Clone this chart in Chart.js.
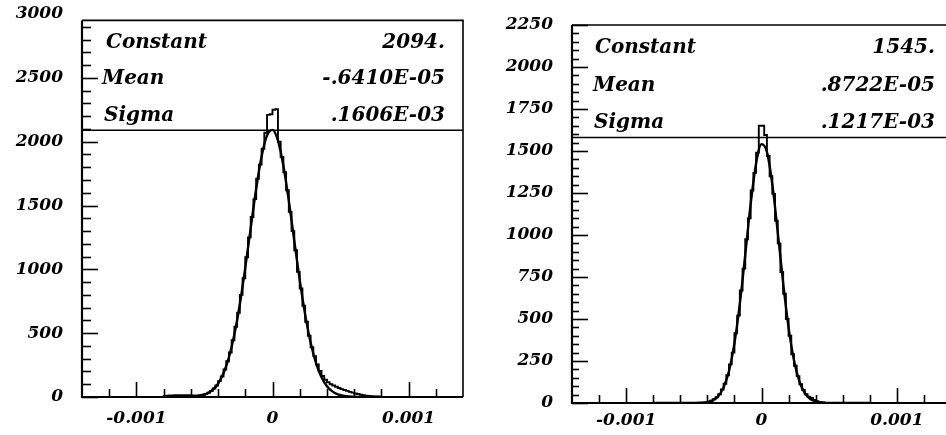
<!DOCTYPE html>
<html><head><meta charset="utf-8">
<script src="https://cdn.jsdelivr.net/npm/chart.js@4.4.1/dist/chart.umd.min.js"></script>
<style>
html,body{margin:0;padding:0;background:#fff;overflow:hidden;width:946px;height:435px;}
#c1{position:absolute;left:0;top:0;}
#c2{position:absolute;left:480px;top:0;}
</style></head><body>
<canvas id="c1" width="480" height="435"></canvas>
<canvas id="c2" width="480" height="435"></canvas>
<script>
// ---------- data ----------
const binWidth = 0.00002;
const binCenters = [
  -0.00079,-0.00077,-0.00075,-0.00073,-0.00071,-0.00069,-0.00067,-0.00065,-0.00063,-0.00061,
  -0.00059,-0.00057,-0.00055,-0.00053,-0.00051,-0.00049,-0.00047,-0.00045,-0.00043,-0.00041,
  -0.00039,-0.00037,-0.00035,-0.00033,-0.00031,-0.00029,-0.00027,-0.00025,-0.00023,-0.00021,
  -0.00019,-0.00017,-0.00015,-0.00013,-0.00011,-0.00009,-0.00007,-0.00005,-0.00003,-0.00001,
  0.00001,0.00003,0.00005,0.00007,0.00009,0.00011,0.00013,0.00015,0.00017,0.00019,
  0.00021,0.00023,0.00025,0.00027,0.00029,0.00031,0.00033,0.00035,0.00037,0.00039,
  0.00041,0.00043,0.00045,0.00047,0.00049,0.00051,0.00053,0.00055,0.00057,0.00059,
  0.00061,0.00063,0.00065,0.00067,0.00069,0.00071,0.00073,0.00075,0.00077,0.00079];
const leftCounts = [
  8,10,12,12,14,15,13,14,15,14,
  13,12,12,14,18,24,33,47,66,90,
  124,160,215,280,348,445,550,660,800,930,
  1095,1250,1410,1550,1710,1820,1945,2070,2210,2215,
  2250,2255,2000,1880,1760,1620,1450,1300,1150,980,
  850,715,590,480,390,320,255,205,165,135,
  115,100,90,80,70,62,55,48,40,34,
  28,23,18,14,11,9,7,5,4,3];
const rightCounts = [
  0,0,0,0,0,0,0,0,0,0,
  0,0,0,0,0,0,1,1,2,4,
  8,13,22,34,52,80,115,165,230,300,
  415,520,670,800,975,1100,1265,1370,1490,1650,
  1650,1595,1470,1350,1245,1085,950,780,650,500,
  400,290,222,160,112,78,52,38,30,18,
  10,5,3,1,0,0,0,0,0,0,
  0,0,0,0,0,0,0,0,0,0];
const fitX = [-0.00080,-0.00076,-0.00072,-0.00068,-0.00064,-0.00060,-0.00056,-0.00052,-0.00048,-0.00044,
  -0.00040,-0.00036,-0.00032,-0.00028,-0.00024,-0.00020,-0.00016,-0.00012,-0.00008,-0.00004,
  0,
  0.00004,0.00008,0.00012,0.00016,0.00020,0.00024,0.00028,0.00032,0.00036,0.00040,
  0.00044,0.00048,0.00052,0.00056,0.00060,0.00064,0.00068,0.00072,0.00076,0.00080];
const leftFit = [0,0,0,0,1,2,6,13,27,55,
  104,186,311,491,727,1013,1325,1631,1885,2049,
  2092,
  2008,1812,1536,1224,917,645,427,266,155,85,
  44,21,10,4,2,1,0,0,0,0];
const rightFit = [0,0,0,0,0,0,0,0,1,2,
  5,16,40,93,191,355,591,883,1185,1426,
  1541,
  1495,1301,1017,713,449,254,129,59,24,9,
  3,1,0,0,0,0,0,0,0,0];
const xTickValues = [-0.001, 0, 0.001];
const xTickLabels = ['-0.001', '0', '0.001'];
const statNames = ['Constant', 'Mean', 'Sigma'];
const leftStats = ['2094.', '-.6410E-05', '.1606E-03'];
const rightStats = ['1545.', '.8722E-05', '.1217E-03'];
// y-axis extents and stats-box bottoms (in count units)
const leftYRange = [0, 3000, 500, 100];   // min, max, major step, minor step
const rightYRange = [0, 2250, 250, 50];
const leftFrame = [2950, 2090];           // frame top, stats box bottom
const rightFrame = [2250, 1580];

// ---------- helpers ----------
function histPoints(centers, counts, w) {
  const pts = [{x: centers[0] - w/2, y: 0}];
  centers.forEach((c, i) => pts.push({x: c - w/2, y: counts[i]}));
  pts.push({x: centers[centers.length-1] + w/2, y: 0});
  return pts;
}
const tickFont = {family: '"DejaVu Serif"', size: 17, style: 'italic', weight: 'bold'};
const statFont = 'italic bold 20px "DejaVu Serif"';

function makeChart(id, counts, fit, yr, frame, stats, lay) {
  const framePlugin = {
    id: 'frame_' + id,
    afterDraw(chart) {
      const ctx = chart.ctx, ca = chart.chartArea;
      const xs = chart.scales.x, ys = chart.scales.y;
      const top = ys.getPixelForValue(frame[0]);
      const boxB = ys.getPixelForValue(frame[1]);
      const L = ca.left, R = ca.right, B = ca.bottom;
      ctx.save();
      ctx.strokeStyle = '#000';
      ctx.lineWidth = 2.2;
      ctx.beginPath(); ctx.moveTo(L, top); ctx.lineTo(L, B); ctx.lineTo(R, B); ctx.stroke();
      ctx.lineWidth = 1.6;
      ctx.beginPath(); ctx.moveTo(L, top); ctx.lineTo(R, top); ctx.lineTo(R, B); ctx.stroke();
      ctx.beginPath(); ctx.moveTo(L, boxB); ctx.lineTo(R, boxB); ctx.stroke();
      ctx.lineWidth = 1.6;
      for (let v = yr[0]; v <= frame[0] + 1e-6; v += yr[3]) {
        const y = Math.round(ys.getPixelForValue(v)) + 0.5;
        const major = Math.abs(v / yr[2] - Math.round(v / yr[2])) < 1e-6;
        const len = major ? 16 : lay.minorY;
        ctx.beginPath(); ctx.moveTo(L, y); ctx.lineTo(L + len, y); ctx.stroke();
      }
      for (let k = -6; k <= 6; k++) {
        const v = k * 0.0002;
        const x = Math.round(xs.getPixelForValue(v)) + 0.5;
        const len = (k % 5 === 0) ? 15 : 8;
        ctx.beginPath(); ctx.moveTo(x, B); ctx.lineTo(x, B - len); ctx.stroke();
      }
      ctx.fillStyle = '#000';
      ctx.font = statFont;
      ctx.textBaseline = 'alphabetic';
      const h = (boxB - top) / 3;
      statNames.forEach((n, i) => {
        const y = top + (i + 0.75) * h;
        ctx.textAlign = 'left';
        ctx.fillText(n, L + lay.textL[i], y);
        ctx.textAlign = 'right';
        ctx.fillText(stats[i], R - lay.textR, y);
      });
      ctx.restore();
    }
  };
  return new Chart(document.getElementById(id), {
    type: 'line',
    data: {
      datasets: [
        {data: histPoints(binCenters, counts, binWidth), stepped: 'before', borderColor: '#000',
         borderWidth: 1.9, pointRadius: 0, fill: false},
        {data: fitX.map((x, i) => ({x: x, y: fit[i]})), cubicInterpolationMode: 'monotone',
         borderColor: '#000', borderWidth: 2.4, pointRadius: 0, fill: false}
      ]
    },
    options: {
      responsive: false, animation: false, devicePixelRatio: 1,
      layout: {padding: {left: 0, right: lay.padR, top: lay.padT, bottom: 0}},
      plugins: {legend: {display: false}, tooltip: {enabled: false}},
      scales: {
        x: {
          type: 'linear', min: -0.0014, max: 0.0014,
          grid: {display: false, drawTicks: false}, border: {display: false},
          afterBuildTicks: s => { s.ticks = xTickValues.map(v => ({value: v})); },
          afterFit: s => { s.height = lay.xH; s.paddingLeft = 0; s.paddingRight = 0; },
          ticks: {color: '#000', font: tickFont, padding: lay.xPad, maxRotation: 0, autoSkip: false,
                  callback: (v, i) => xTickLabels[i]}
        },
        y: {
          type: 'linear', min: yr[0], max: yr[1],
          grid: {display: false, drawTicks: false}, border: {display: false},
          afterFit: s => { s.width = lay.yW; s.paddingTop = 0; s.paddingBottom = 0; },
          ticks: {color: '#000', font: tickFont, padding: 19, stepSize: yr[2],
                  callback: v => String(v)}
        }
      }
    },
    plugins: [framePlugin]
  });
}

makeChart('c1', leftCounts, leftFit, leftYRange, leftFrame, leftStats,
  {padR: 17, padT: 14, xH: 38, yW: 82, xPad: 11, minorY: 9, textL: [24, 20, 22], textR: 18});
makeChart('c2', rightCounts, rightFit, rightYRange, rightFrame, rightStats,
  {padR: 9, padT: 25, xH: 32, yW: 92, xPad: 7, minorY: 7, textL: [23, 21, 22], textR: 16});
</script>
</body></html>
